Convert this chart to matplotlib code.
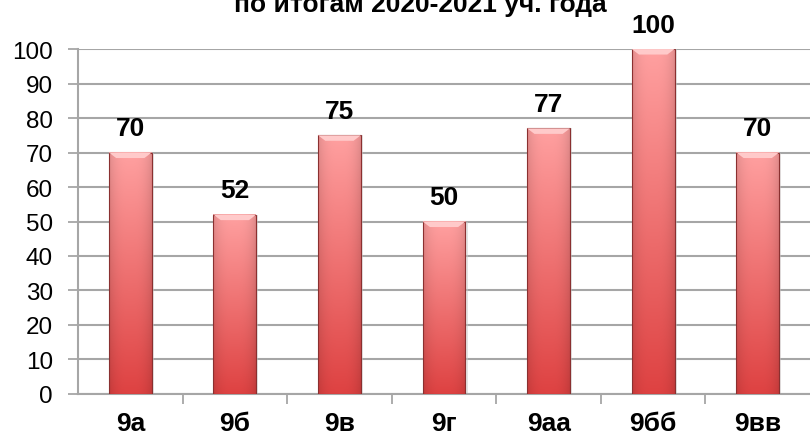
import numpy as np
import matplotlib
matplotlib.use('Agg')
import matplotlib.pyplot as plt
from matplotlib.patches import Rectangle

classes = ['9а', '9б', '9в', '9г', '9аа', '9бб', '9вв']
scores = [70, 52, 75, 50, 77, 100, 70]
title = 'по итогам 2020-2021 уч. года'

plt.rcParams['font.family'] = ['Liberation Sans', 'DejaVu Sans']

fig = plt.figure(figsize=(8.1, 4.35), dpi=100)
ax = fig.add_axes([0.0963, 0.092, 0.9037, 0.793])

# gradient: light pink at top, deeper red at bottom, darker at the sides
top = np.array([255, 160, 160]) / 255
bot = np.array([222, 66, 66]) / 255
t = np.linspace(0, 1, 100)[:, None, None]
grad = top * (1 - t) + bot * t
side = np.linspace(-1, 1, 40)
shade = 1 - 0.12 * np.abs(side) ** 3
grad = grad * shade[None, :, None]
grad = np.clip(grad, 0, 1)

w = 0.41
x = np.arange(len(classes))
for xi, v in zip(x, scores):
    # soft shadow
    ax.add_patch(Rectangle((xi - w / 2 + 0.02, 0), w, v, color='#c8c8c8', alpha=0.5, zorder=2, lw=0))
    ax.imshow(grad, extent=(xi - w / 2, xi + w / 2, 0, v), aspect='auto', zorder=3)
    ax.add_patch(Rectangle((xi - w / 2, 0), w, v, fill=False, ec='#8a3030', lw=0.8, zorder=4))
    # bevel on top
    bev = 1.6
    ax.fill([xi - w / 2, xi + w / 2, xi + w / 2 - 0.07, xi - w / 2 + 0.07],
            [v, v, v - bev, v - bev], color='#ffcaca', zorder=4, lw=0)
    ax.text(xi, v + 5, str(v), ha='center', va='baseline', fontsize=19, fontweight='bold', zorder=5)

ax.set_xlim(-0.5, len(classes) - 0.5)
ax.set_ylim(0, 100)
ax.set_yticks(range(0, 101, 10))
ax.grid(axis='y', color='#a6a6a6', lw=1.5, zorder=0)
ax.set_axisbelow(True)

ax.set_xticks(x)
ax.set_xticklabels(classes, fontsize=19, fontweight='bold')
ax.set_xticks(np.arange(0.5, len(classes) - 0.5, 1), minor=True)
ax.tick_params(axis='x', which='major', length=0, pad=12)
ax.tick_params(axis='x', which='minor', length=7, width=1.3, color='#a6a6a6', direction='out')
ax.tick_params(axis='y', length=7, width=1.3, color='#a6a6a6', labelsize=17.5, pad=11)

for s in ['top', 'right']:
    ax.spines[s].set_visible(False)
for s in ['left', 'bottom']:
    ax.spines[s].set_color('#a6a6a6')
    ax.spines[s].set_linewidth(1.5)

# title is clipped at the top edge, as in the reference
fig.text(0.519, 0.972, title, ha='center', va='baseline', fontsize=19, fontweight='bold')

fig.savefig('out.png', dpi=100)
